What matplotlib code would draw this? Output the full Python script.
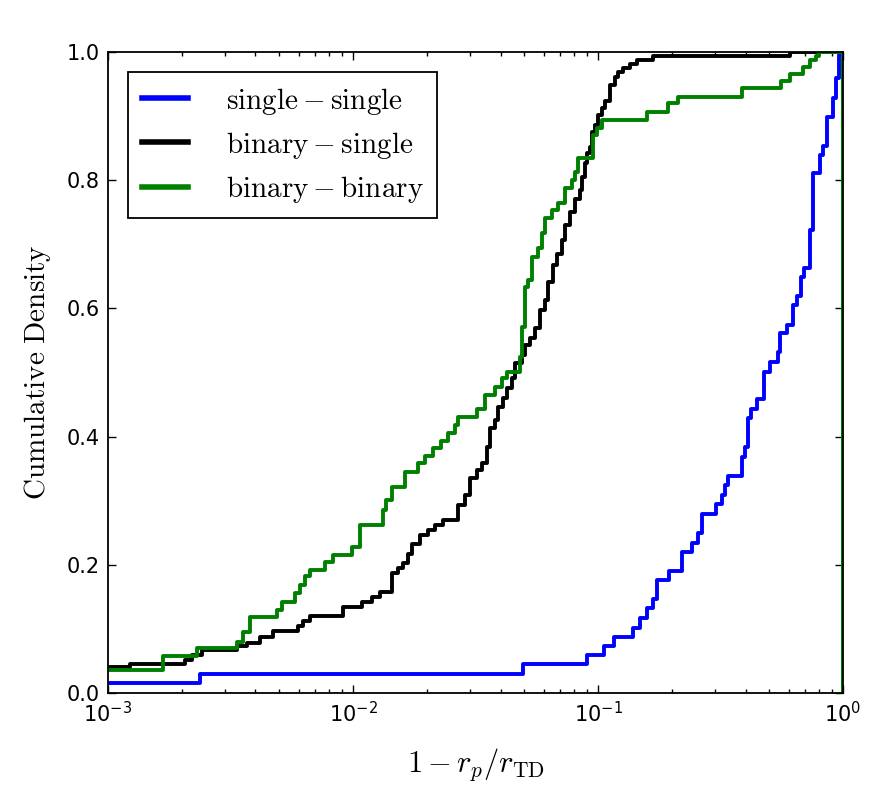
import numpy as np
import matplotlib
matplotlib.use("Agg")
from matplotlib import pyplot as plt

plt.rcParams['mathtext.fontset'] = 'cm'
plt.rcParams['xtick.direction'] = 'in'
plt.rcParams['ytick.direction'] = 'in'
plt.rcParams['xtick.top'] = True
plt.rcParams['ytick.right'] = True

# step positions (1 - r_p/r_TD) and cumulative density after each step
ss_x = [1e-3, 0.00237, 0.0494, 0.0902, 0.106, 0.116, 0.139, 0.148, 0.159, 0.168,
        0.174, 0.195, 0.220, 0.242, 0.256, 0.266, 0.303, 0.321, 0.330, 0.339,
        0.387, 0.398, 0.410, 0.421, 0.446, 0.476, 0.504, 0.543, 0.553, 0.591,
        0.625, 0.649, 0.674, 0.693, 0.733, 0.754, 0.806, 0.829, 0.860, 0.910,
        0.936, 0.963, 0.99]
ss_y = [0.015, 0.030, 0.045, 0.059, 0.073, 0.087, 0.101, 0.117, 0.133, 0.147,
        0.176, 0.190, 0.220, 0.234, 0.250, 0.280, 0.295, 0.309, 0.324, 0.339,
        0.368, 0.384, 0.429, 0.443, 0.459, 0.500, 0.516, 0.532, 0.562, 0.574,
        0.605, 0.619, 0.649, 0.663, 0.722, 0.811, 0.839, 0.853, 0.899, 0.928,
        0.960, 0.995, 1.0]

bs_x = [1e-3, 0.00123, 0.00206, 0.00220, 0.00242, 0.00336, 0.00369, 0.00417,
        0.00472, 0.00596, 0.00625, 0.00668, 0.00910, 0.01088, 0.01196, 0.01289,
        0.01443, 0.01527, 0.01600, 0.01677, 0.01741, 0.01877, 0.02024, 0.02162,
        0.02330, 0.02683, 0.02865, 0.03003, 0.03207, 0.03361, 0.03523, 0.03624,
        0.03798, 0.03906, 0.04095, 0.04252, 0.04457, 0.04584, 0.04895, 0.05035,
        0.05277, 0.05532, 0.05798, 0.06077, 0.06251, 0.06552, 0.06804, 0.07130,
        0.07334, 0.07687, 0.08056, 0.08443, 0.08604, 0.08850, 0.09017, 0.09275,
        0.09452, 0.09723, 0.1, 0.1038, 0.1068, 0.1119, 0.1173, 0.1207, 0.1265,
        0.1351, 0.1443, 0.1677, 0.6077]
bs_y = [0.041, 0.045, 0.051, 0.059, 0.067, 0.073, 0.078, 0.087, 0.097, 0.105,
        0.112, 0.120, 0.134, 0.142, 0.150, 0.158, 0.187, 0.195, 0.203, 0.217,
        0.232, 0.246, 0.254, 0.262, 0.270, 0.293, 0.309, 0.335, 0.348, 0.359,
        0.384, 0.413, 0.426, 0.446, 0.460, 0.476, 0.491, 0.515, 0.527, 0.543,
        0.554, 0.569, 0.598, 0.613, 0.641, 0.668, 0.685, 0.707, 0.730, 0.750,
        0.771, 0.785, 0.805, 0.827, 0.842, 0.852, 0.875, 0.886, 0.902, 0.913,
        0.924, 0.949, 0.961, 0.969, 0.975, 0.981, 0.988, 0.994, 1.0]

bb_x = [1e-3, 0.001677, 0.002309, 0.00336, 0.003556, 0.003798, 0.004895,
        0.005131, 0.005799, 0.006077, 0.006369, 0.00668, 0.007687, 0.008286,
        0.009906, 0.01068, 0.01326, 0.01364, 0.01443, 0.01630, 0.01842, 0.01967,
        0.02121, 0.02286, 0.02443, 0.02609, 0.02683, 0.03207, 0.03457, 0.03798,
        0.04057, 0.04252, 0.04803, 0.04895, 0.05035, 0.05181, 0.05376, 0.05690,
        0.05908, 0.06077, 0.06490, 0.06867, 0.07334, 0.07832, 0.08056, 0.08286,
        0.09541, 0.09906, 0.1038, 0.1585, 0.1931, 0.2121, 0.3871, 0.5582,
        0.6077, 0.6867, 0.7332, 0.7760, 0.7981]
bb_y = [0.036, 0.058, 0.070, 0.080, 0.095, 0.119, 0.129, 0.142, 0.156, 0.168,
        0.183, 0.192, 0.204, 0.215, 0.228, 0.262, 0.286, 0.301, 0.321, 0.345,
        0.359, 0.370, 0.382, 0.393, 0.406, 0.418, 0.431, 0.443, 0.465, 0.477,
        0.491, 0.501, 0.524, 0.571, 0.633, 0.644, 0.680, 0.694, 0.718, 0.741,
        0.754, 0.764, 0.788, 0.800, 0.813, 0.835, 0.871, 0.881, 0.894, 0.906,
        0.920, 0.930, 0.944, 0.955, 0.966, 0.977, 0.988, 0.994, 1.0]

series = [
    (ss_x, ss_y, 'b', r'$\mathrm{single-single}$'),
    (bs_x, bs_y, 'k', r'$\mathrm{binary-single}$'),
    (bb_x, bb_y, 'g', r'$\mathrm{binary-binary}$'),
]

fig = plt.figure(figsize=(8.8, 7.9), dpi=100)
ax = fig.add_axes([0.1227, 0.1228, 0.8353, 0.8114])

for xs, ys, col, lab in series:
    # close the cumulative histogram outline at x = 1, like histtype='step'
    x = np.append(xs, [1.0, 1.0])
    y = np.append(ys, [ys[-1], 0.0])
    ax.step(x, y, where='post', color=col, lw=2.8, label=lab)

ax.set_xscale('log')
ax.set_xlim(1e-3, 1)
ax.set_ylim(0, 1)
ax.set_yticks([0.0, 0.2, 0.4, 0.6, 0.8, 1.0])
ax.tick_params(which='major', length=6, width=1, labelsize=15, pad=6)
ax.tick_params(which='minor', length=3, width=1)
for s in ax.spines.values():
    s.set_linewidth(1.3)

ax.set_xlabel(r'$1-r_p/r_{\mathrm{TD}}$', fontsize=22, labelpad=14)
ax.set_ylabel(r'$\mathrm{Cumulative\ Density}$', fontsize=21, labelpad=10)

leg = ax.legend(loc='upper left', fontsize=21, fancybox=False, framealpha=1,
                edgecolor='k', handlelength=1.6, handletextpad=1.3,
                borderpad=0.45, labelspacing=0.45, borderaxespad=0.7)
leg.get_frame().set_linewidth(1.3)
for h in leg.get_lines():
    h.set_linewidth(4)

fig.savefig('out.png', dpi=100)
